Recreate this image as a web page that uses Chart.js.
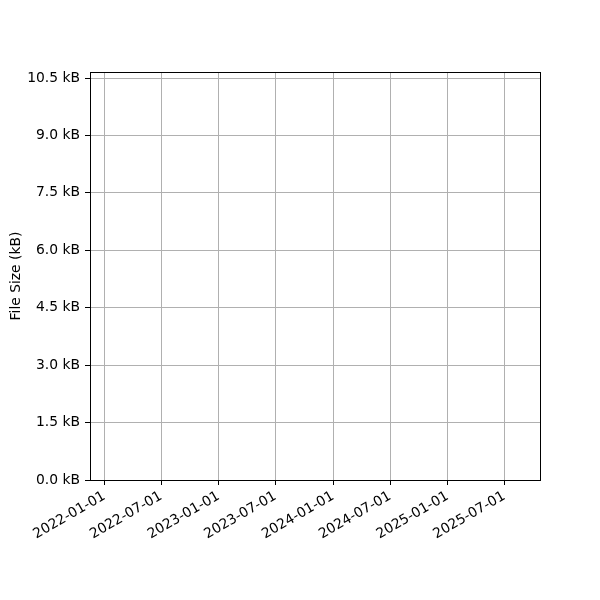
<!DOCTYPE html>
<html>
<head>
<meta charset="utf-8">
<script src="https://cdn.jsdelivr.net/npm/chart.js@4/dist/chart.umd.min.js"></script>
<style>
html,body{margin:0;padding:0;background:#fff;}
#wrap{width:600px;height:600px;}
</style>
</head>
<body>
<div id="wrap"><canvas id="c" width="600" height="600"></canvas></div>
<script>
// Data (the reference chart contains no data points)
const dates = [];
const fileSizes = [];
// Tick labels
const xTickLabels = ['2022-01-01','2022-07-01','2023-01-01','2023-07-01','2024-01-01','2024-07-01','2025-01-01','2025-07-01'];
const yTickValues = [0, 1.5, 3.0, 4.5, 6.0, 7.5, 9.0, 10.5];
// Axis ranges
const xRange = ['2021-11-16', '2025-10-23'];
const yRange = [0, 10.657];

const toMs = s => Date.parse(s + 'T00:00:00Z');
const fmtDate = v => new Date(v).toISOString().slice(0, 10);

const FONT = {family: 'DejaVu Sans', size: 13.89};

const frame = {
  id: 'frame',
  afterDatasetsDraw(chart) {
    const a = chart.chartArea, ctx = chart.ctx;
    const l = Math.round(a.left) + 0.5, t = Math.round(a.top) + 0.5;
    const r = Math.round(a.right) + 0.5, b = Math.round(a.bottom) + 0.5;
    ctx.save();
    ctx.strokeStyle = '#000';
    ctx.lineWidth = 1;
    ctx.strokeRect(l, t, r - l, b - t);
    ctx.restore();
  }
};

new Chart(document.getElementById('c'), {
  type: 'line',
  data: {
    datasets: [{
      label: 'File Size',
      data: dates.map((d, i) => ({x: toMs(d), y: fileSizes[i]})),
      borderColor: '#1f77b4'
    }]
  },
  plugins: [frame],
  options: {
    responsive: false,
    animation: false,
    devicePixelRatio: 1,
    layout: {padding: {top: 72, right: 60, left: 0, bottom: 0}},
    plugins: {legend: {display: false}, tooltip: {enabled: false}},
    scales: {
      x: {
        type: 'linear',
        min: toMs(xRange[0]),
        max: toMs(xRange[1]),
        afterBuildTicks: s => { s.ticks = xTickLabels.map(t => ({value: toMs(t)})); },
        afterFit: s => { s.height = 120; },
        grid: {color: '#b0b0b0', tickColor: '#000', tickLength: 5, lineWidth: 1},
        border: {display: false},
        ticks: {
          font: FONT, color: '#000', padding: 3,
          minRotation: 30, maxRotation: 30, autoSkip: false,
          callback: v => fmtDate(v)
        }
      },
      y: {
        type: 'linear',
        min: yRange[0],
        max: yRange[1],
        afterBuildTicks: s => { s.ticks = yTickValues.map(v => ({value: v})); },
        afterFit: s => { s.width = 90; },
        grid: {color: '#b0b0b0', tickColor: '#000', tickLength: 5, lineWidth: 1},
        border: {display: false},
        ticks: {
          font: FONT, color: '#000', padding: 5, autoSkip: false,
          callback: v => v.toFixed(1) + ' kB'
        },
        title: {display: true, text: 'File Size (kB)', font: FONT, color: '#000', padding: {top: 8, bottom: 0}}
      }
    }
  }
});
</script>
</body>
</html>
